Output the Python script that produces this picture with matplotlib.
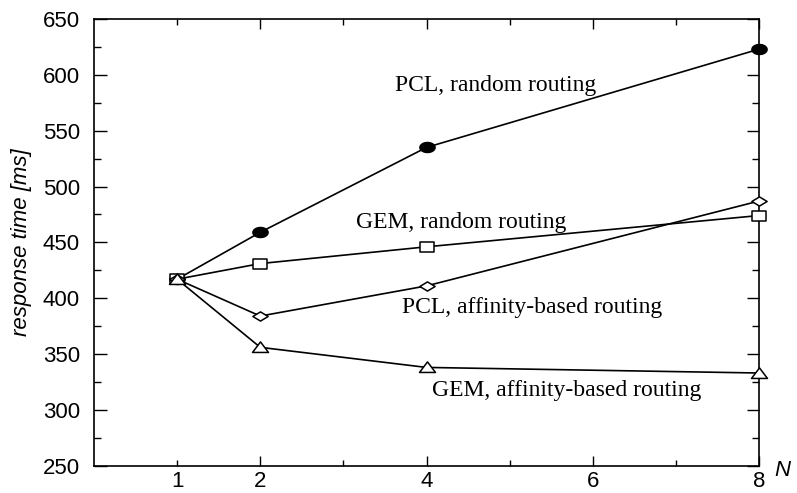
import numpy as np
import matplotlib
matplotlib.use("Agg")
import matplotlib.pyplot as plt
from matplotlib.path import Path

# ---- data ----
N = [1, 2, 4, 8]
pcl_random = [417, 459, 535, 623]
gem_random = [417, 431, 446, 474]
pcl_affinity = [417, 384, 411, 487]
gem_affinity = [417, 356, 338, 333]

series_labels = ["PCL, random routing", "GEM, random routing",
                 "PCL, affinity-based routing", "GEM, affinity-based routing"]
x_major = [2, 4, 6, 8]
x_minor = [1, 3, 5, 7]
x_minor_labels = ["1", "", "", ""]
y_major = [250, 300, 350, 400, 450, 500, 550, 600, 650]

# ---- horizontally stretched markers ----
sx = 1.0
sy = 0.66
t = np.linspace(0, 2 * np.pi, 60)
ellipse = Path(np.column_stack([sx * np.cos(t), sy * np.sin(t)]), closed=True)
rect = Path([(-0.85, -0.6), (0.85, -0.6), (0.85, 0.6), (-0.85, 0.6), (-0.85, -0.6)], closed=True)
diamond = Path([(-1, 0), (0, -0.6), (1, 0), (0, 0.6), (-1, 0)], closed=True)
tri = Path([(-1, -0.62), (1, -0.62), (0, 0.7), (-1, -0.62)], closed=True)

fig = plt.figure(figsize=(7.97, 4.93), dpi=100)
ax = fig.add_axes([94 / 797, 1 - 465.7 / 493, (759 - 94) / 797, (465.7 - 19) / 493])

lw = 1.2
ax.plot(N, pcl_random, color="black", lw=lw, marker=ellipse, ms=11,
        mfc="black", mec="black", mew=1, zorder=3, clip_on=False)
ax.plot(N, gem_random, color="black", lw=lw, marker=rect, ms=9.5,
        mfc="white", mec="black", mew=1.1, zorder=3, clip_on=False)
ax.plot(N, pcl_affinity, color="black", lw=lw, marker=diamond, ms=11,
        mfc="white", mec="black", mew=1.1, zorder=3, clip_on=False)
ax.plot(N, gem_affinity, color="black", lw=lw, marker=tri, ms=11.5,
        mfc="white", mec="black", mew=1.1, zorder=3, clip_on=False)

ax.set_xlim(0, 8)
ax.set_ylim(250, 650)

ax.set_xticks(x_major)
ax.set_xticks(x_minor, minor=True)
ax.set_xticklabels(["2", "4", "6", "8"])
ax.set_xticklabels(x_minor_labels, minor=True)
ax.set_yticks(y_major)
ax.set_yticks(np.arange(275, 650, 50), minor=True)

sans = ["Liberation Sans", "DejaVu Sans"]
serif = ["Liberation Serif", "DejaVu Serif"]

ax.tick_params(which="both", direction="in", top=True, right=True,
               labelsize=16, width=1, colors="black")
ax.tick_params(axis="y", which="major", length=9, pad=10)
ax.tick_params(axis="y", which="minor", length=5)
ax.tick_params(axis="x", which="major", length=7, pad=4)
ax.tick_params(axis="x", which="minor", length=4, pad=4, labelsize=16)
for lab in ax.get_xticklabels(which="both") + ax.get_yticklabels():
    lab.set_family(sans)

for s in ax.spines.values():
    s.set_linewidth(1.2)

ax.set_ylabel("response time [ms]", fontsize=16, style="italic", family=sans, labelpad=8)
ax.text(1.035, -0.01, "N", transform=ax.transAxes, fontsize=16, style="italic",
        family=sans, ha="center", va="center")

label_pos = [(3.616, 585.8), (3.157, 462.6), (3.70, 387.0), (4.07, 312.4)]
for lbl, (lx, ly) in zip(series_labels, label_pos):
    ax.text(lx, ly, lbl, fontsize=17, family=serif, ha="left", va="baseline")

fig.savefig("out.png", dpi=100)
